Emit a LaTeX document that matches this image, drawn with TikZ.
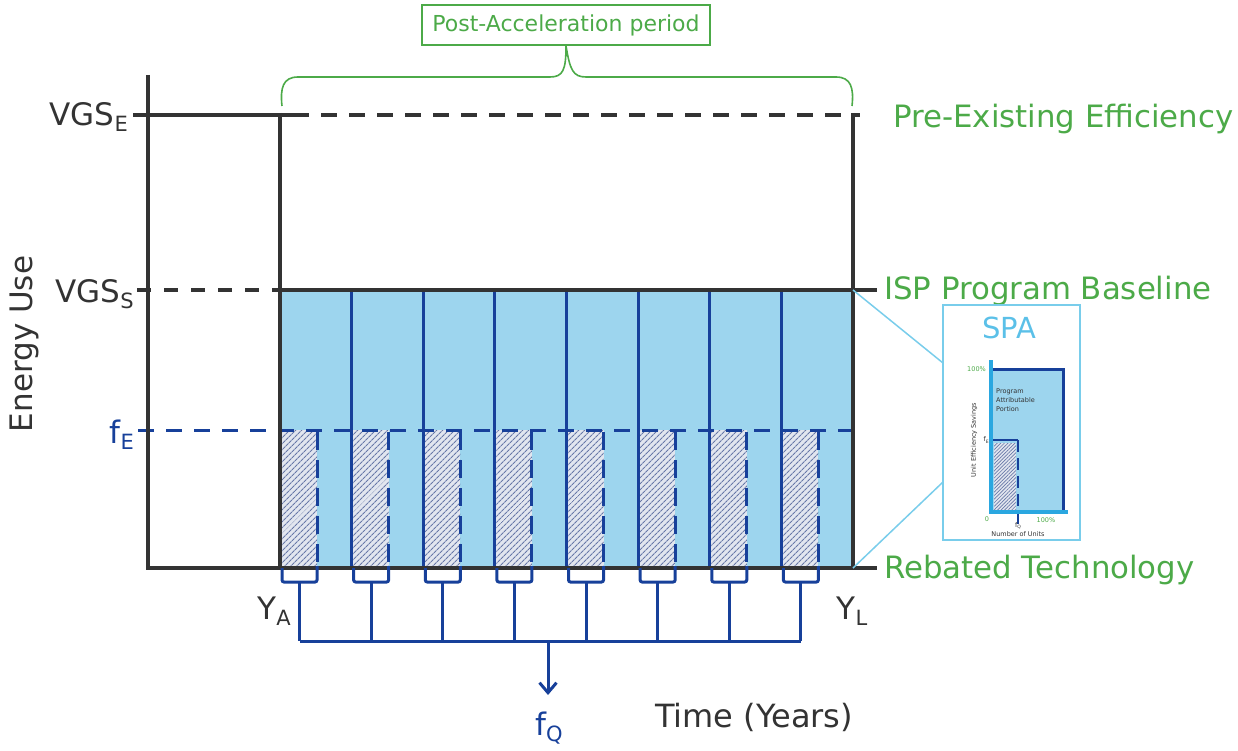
\documentclass[tikz,border=0pt]{standalone}
\usepackage{fontspec}
\setmainfont{DejaVu Sans}
\usetikzlibrary{patterns.meta,arrows.meta}
\definecolor{lblue}{HTML}{9DD5EE}
\definecolor{dblue}{HTML}{17409A}
\definecolor{dgray}{HTML}{333333}
\definecolor{lgreen}{HTML}{4CAA48}
\definecolor{spablue}{HTML}{79CDEB}
\definecolor{spatext}{HTML}{5BC0E8}
\definecolor{axblue}{HTML}{2AA7E0}
\definecolor{hatchbg}{HTML}{E2E6EF}
\definecolor{hatchln}{HTML}{6878A8}
\newcommand{\bigsub}[1]{\raisebox{-6pt}{\fontsize{21}{21}\selectfont #1}}
\newcommand{\tinysub}[1]{\raisebox{-1.5pt}{\fontsize{4.5}{5}\selectfont #1}}
\tikzset{
  axisline/.style={line width=3.5pt, draw=dgray},
  blueline/.style={line width=3pt, draw=dblue},
  dsh/.style={dash pattern=on 16pt off 12pt},
  glabel/.style={text=lgreen, font=\fontsize{30.8}{36}\selectfont, inner sep=0pt, anchor=base west},
  klabel/.style={text=dgray, font=\fontsize{31}{36}\selectfont, inner sep=0pt},
  blabel/.style={text=dblue, font=\fontsize{31}{36}\selectfont, inner sep=0pt},
  hatchfill/.style={pattern={Lines[angle=45,distance=4pt,line width=1.1pt]}, pattern color=hatchln},
  tinytext/.style={font=\fontsize{6.5}{7.5}\selectfont, inner sep=0pt, text=dgray},
}
\begin{document}
\begin{tikzpicture}[x=1pt,y=-1pt]
\useasboundingbox (0,0) rectangle (1238,751);

% main coordinates
\coordinate (A0) at (280,568);
\coordinate (A1) at (853,290);

% light blue area
\fill[lblue] (A0) rectangle (A1);

% hatched areas
\foreach \k in {0,...,7}{
  \pgfmathsetmacro\xa{280+71.625*\k}
  \fill[hatchbg] (\xa+1.5,430) rectangle (\xa+37,568);
  \fill[hatchfill] (\xa+1.5,430) rectangle (\xa+37,568);
}
% dark blue segment boundaries
\foreach \k in {1,...,7}{
  \pgfmathsetmacro\xa{280+71.625*\k}
  \draw[blueline] (\xa,290) -- (\xa,568);
}
% dashed right edges of hatch
\foreach \k in {0,...,7}{
  \pgfmathsetmacro\xa{280+71.625*\k}
  \draw[blueline, dash pattern=on 18pt off 10pt] (\xa+37,432) -- (\xa+37,568);
}
% f_E dashed line
\coordinate (fe0) at (138,430);
\coordinate (fe1) at (853,430);
\draw[blueline, dsh] (fe0) -- (fe1);

% black axes & lines
\coordinate (O) at (148,568);
\coordinate (ytop) at (148,75);
\coordinate (xend) at (877,568);
\draw[axisline] (ytop) -- (O) -- (xend);
\coordinate (ve0) at (133,115);
\coordinate (ve1) at (293,115);
\coordinate (ve2) at (860,115);
\draw[axisline] (ve0) -- (ve1);
\draw[axisline, dsh] (ve1) -- (ve2);
\coordinate (vs0) at (137,290);
\coordinate (vs1) at (280,290);
\coordinate (vs2) at (877,290);
\draw[axisline, dash pattern=on 14pt off 13pt] (vs0) -- (vs1);
\draw[axisline] (vs1) -- (vs2);
\draw[axisline] (280,113) -- (A0);
\draw[axisline] (853,113) -- (853,568);

% brackets and stems
\coordinate (bus0) at (299.5,641);
\coordinate (bus1) at (801,641);
\foreach \k in {0,...,7}{
  \pgfmathsetmacro\xa{280+71.625*\k}
  \draw[line width=3pt, draw=dblue, rounded corners=2pt] (\xa+2,568) -- (\xa+2,582) -- (\xa+37,582) -- (\xa+37,566);
  \draw[line width=3pt, draw=dblue] (\xa+19.5,582) -- (\xa+19.5,641);
}
\draw[line width=3pt, draw=dblue] (bus0) -- (bus1);
\coordinate (arr0) at (548,641);
\coordinate (arr1) at (548,695);
\draw[line width=3pt, draw=dblue, -{Straight Barb[length=10pt,width=17pt,line width=3pt]}] (arr0) -- (arr1);

% labels
\node[klabel, anchor=base east] (vgse) at (128,126) {VGS\bigsub{E}};
\node[klabel, anchor=base east] (vgss) at (134,302) {VGS\bigsub{S}};
\node[blabel, anchor=base east] (fel) at (134,443) {f\bigsub{E}};
\node[klabel, rotate=90] (eu) at (24,344) {Energy Use};
\node[klabel, anchor=base] (ya) at (274,619) {Y\bigsub{A}};
\node[klabel, anchor=base] (yl) at (852,619) {Y\bigsub{L}};
\node[blabel, anchor=base] (fq) at (549,735) {f\bigsub{Q}};
\node[klabel, anchor=base, font=\fontsize{32}{36}\selectfont] (time) at (754,727) {Time (Years)};
\node[glabel] (pre) at (893,128) {Pre-Existing Efficiency};
\node[glabel] (isp) at (884,299) {ISP Program Baseline};
\node[glabel] (reb) at (884,578) {Rebated Technology};

% brace and post-acceleration box
\node[draw=lgreen, line width=1.8pt, text=lgreen, font=\fontsize{22}{26}\selectfont,
      minimum width=288pt, minimum height=40pt, inner sep=0pt] (pap) at (566,25) {Post-Acceleration period};
\draw[draw=lgreen, line width=1.6pt]
  (282,106) .. controls (280,88) and (283,77) .. (298,77) -- (550,77)
  .. controls (563,77) and (566,70) .. (pap.south)
  .. controls (570,70) and (573,77) .. (586,77) -- (836,77)
  .. controls (851,77) and (854,88) .. (852,106);

% SPA inset
\node[draw=spablue, line width=2pt, minimum width=137pt, minimum height=235pt, inner sep=0pt] (spa) at (1011.5,422.5) {};
\draw[draw=spablue, line width=1.5pt] (A1) -- (943,363);
\draw[draw=spablue, line width=1.5pt] (853,568) -- (943,482);
\node[text=spatext, font=\fontsize{29}{32}\selectfont, inner sep=0pt] (spat) at (1009,328) {SPA};

\fill[lblue] (991,369) rectangle (1063,512);
\fill[hatchbg] (994,443) rectangle (1016,510);
\fill[pattern={Lines[angle=45,distance=2.5pt,line width=0.7pt]}, pattern color=hatchln] (994,443) rectangle (1016,510);
\draw[dblue, line width=3pt] (991,369) -- (1063,369) -- (1063,512);
\draw[dblue, line width=2.5pt] (991,440) -- (1018,440);
\draw[dblue, line width=2.5pt, dash pattern=on 12pt off 6pt] (1018,440) -- (1018,528);
\draw[axblue, line width=3.5pt] (991,360) -- (991,512) -- (1068,512);

\node[tinytext, text=lgreen, anchor=east] (p100) at (986,369) {100\%};
\node[tinytext, text=dgray, anchor=east] (spafe) at (989,440) {f\tinysub{E}};
\node[tinytext, text=lgreen] (zero) at (987,519) {0};
\node[tinytext, text=dgray] (spafq) at (1018,526) {f\tinysub{Q}};
\node[tinytext, text=lgreen] (x100) at (1046,520) {100\%};
\node[tinytext] (nou) at (1018,534) {Number of Units};
\node[tinytext, rotate=90] (ues) at (974,440) {Unit Efficiency Savings};
\node[tinytext, align=left, anchor=north west, font=\fontsize{6.5}{9}\selectfont] (pap2) at (996,389) {Program\\Attributable\\Portion};

\end{tikzpicture}
\end{document}
